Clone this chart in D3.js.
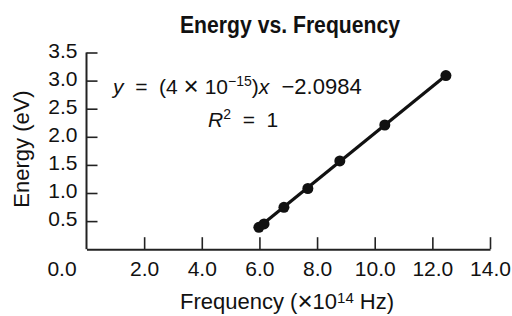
<!DOCTYPE html>
<html>
<head>
<meta charset="utf-8">
<script src="https://cdn.jsdelivr.net/npm/d3@7"></script>
<style>
  body { margin: 0; background: #fff; }
  text { font-family: "Liberation Sans", Arial, sans-serif; fill: #111; }
  .pre { white-space: pre; }
</style>
</head>
<body>
<div id="chart"></div>
<script>
// data
var freq = [5.98, 6.16, 6.85, 7.68, 8.79, 10.35, 12.47];   // x 10^14 Hz
var energy = [0.39, 0.45, 0.745, 1.08, 1.57, 2.21, 3.09];   // eV
var xTicks = [0, 2, 4, 6, 8, 10, 12, 14];
var yTicks = [0.5, 1.0, 1.5, 2.0, 2.5, 3.0, 3.5];

var W = 512, H = 316;
var x = d3.scaleLinear().domain([0, 14]).range([86.5, 490]);
var y = d3.scaleLinear().domain([0, 3.5]).range([249.2, 52.5]);

var svg = d3.select("#chart").append("svg").attr("width", W).attr("height", H);

// axes
var xAxis = d3.axisBottom(x).tickValues(xTicks).tickFormat(d3.format(".1f"))
    .tickSizeInner(-12).tickSizeOuter(0).tickPadding(12);
var gx = svg.append("g").attr("transform", "translate(0," + y(0) + ")").call(xAxis);
var yAxis = d3.axisLeft(y).tickValues(yTicks).tickFormat(d3.format(".1f"))
    .tickSizeInner(-11).tickSizeOuter(0).tickPadding(9);
var gy = svg.append("g").attr("transform", "translate(" + x(0) + ",0)").call(yAxis);

[gx, gy].forEach(function(g) {
  g.select(".domain").attr("stroke", "#222").attr("stroke-width", 2);
  g.selectAll(".tick line").attr("stroke", "#222").attr("stroke-width", 1.6);
  g.selectAll(".tick text").attr("font-size", 21).attr("fill", "#111")
    .style("font-family", "'Liberation Sans', Arial, sans-serif");
});
gy.select(".domain").attr("d", "M0," + y(3.5) + "V" + y(0));
gy.selectAll(".tick text").attr("y", -2);
// the 0.0 label sits left of the corner in the original
var zero = gx.selectAll(".tick").filter(function(d) { return d === 0; });
zero.select("text").attr("dx", -25);
zero.select("line").remove();

// fitted line (first to last point)
var pts = freq.map(function(f, i) { return [f, energy[i]]; });
svg.append("line")
  .attr("x1", x(pts[0][0])).attr("y1", y(pts[0][1]))
  .attr("x2", x(pts[pts.length - 1][0])).attr("y2", y(pts[pts.length - 1][1]))
  .attr("stroke", "#111").attr("stroke-width", 3.2);

svg.append("g").selectAll("circle").data(pts).enter().append("circle")
  .attr("cx", function(d) { return x(d[0]); })
  .attr("cy", function(d) { return y(d[1]); })
  .attr("r", 5.5).attr("fill", "#111");

// title
svg.append("text").attr("x", 180).attr("y", 33.3)
  .attr("font-size", 23).attr("font-weight", "bold")
  .attr("textLength", 220).attr("lengthAdjust", "spacingAndGlyphs")
  .text("Energy vs. Frequency");

// axis titles
svg.append("text").attr("class", "pre").attr("x", 180).attr("y", 309.3)
  .attr("font-size", 22)
  .call(function(t) {
    t.append("tspan").text("Frequency (");
    t.append("tspan").attr("font-size", 26).attr("dy", 1).text("\u00d7");
    t.append("tspan").attr("dy", -1).text("10");
    t.append("tspan").attr("font-size", 15).attr("dy", -6).text("14");
    t.append("tspan").attr("dy", 6).text(" Hz)");
  });
svg.append("text").attr("transform", "translate(28.5,149) rotate(-90)")
  .attr("text-anchor", "middle").attr("font-size", 22).text("Energy (eV)");

// regression annotation
var eq = svg.append("text").attr("class", "pre").attr("x", 113).attr("y", 94).attr("font-size", 21);
eq.append("tspan").attr("font-style", "italic").text("y");
eq.append("tspan").text("  =  (4 ");
eq.append("tspan").attr("font-size", 26).attr("dy", 1).text("\u00d7");
eq.append("tspan").attr("dy", -1).text(" 10");
eq.append("tspan").attr("font-size", 14).attr("dy", -8).text("\u221215");
eq.append("tspan").attr("dy", 8).text(")");
eq.append("tspan").attr("font-style", "italic").text("x");
eq.append("tspan").attr("font-size", 22).text("  \u22122.0984");

var r2 = svg.append("text").attr("class", "pre").attr("x", 208).attr("y", 127).attr("font-size", 21);
r2.append("tspan").attr("font-style", "italic").text("R");
r2.append("tspan").attr("font-size", 14).attr("dy", -8).text("2");
r2.append("tspan").attr("dy", 8).text("  =  1");
</script>
</body>
</html>
